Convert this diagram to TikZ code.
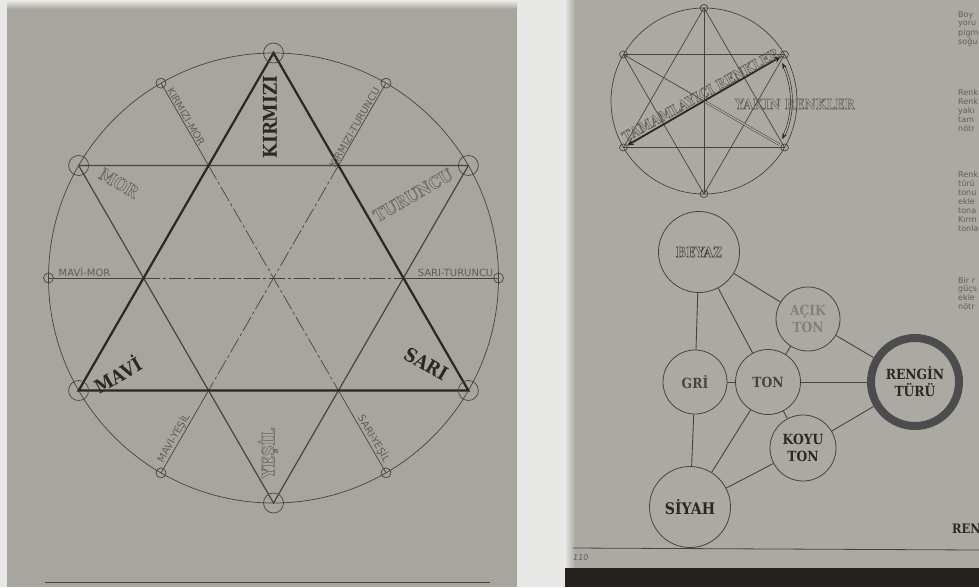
\documentclass[tikz,border=0pt]{standalone}
\usepackage{fontspec}
\setmainfont{DejaVu Sans}
\newfontfamily\heavy[FakeStretch=0.88]{DejaVu Serif}
\newfontfamily\labelf{DejaVu Sans}
\usetikzlibrary{arrows.meta}
\definecolor{paper}{RGB}{168,165,158}
\definecolor{paperR}{RGB}{172,169,162}
\definecolor{gapc}{RGB}{232,232,230}
\definecolor{ink}{RGB}{42,40,38}
\definecolor{inkm}{RGB}{70,68,65}
\definecolor{inkl}{RGB}{95,93,90}
\definecolor{pale}{RGB}{130,128,124}
\definecolor{band}{RGB}{38,33,28}
\newcommand\outl[1]{\special{pdf:literal direct 1 Tr 0.45 w}#1\special{pdf:literal direct 0 Tr}}
\tikzset{
  big/.style={font=\heavy\bfseries\fontsize{19}{19}\selectfont, text=ink, inner sep=0pt},
  hollow/.style={font=\heavy\bfseries\fontsize{17}{17}\selectfont, text=inkl, inner sep=0pt},
  sml/.style={font=\labelf\fontsize{10}{10}\selectfont, text=inkl, inner sep=1pt},
  thinln/.style={draw=inkm, line width=0.7pt},
  dd/.style={draw=inkm, line width=0.7pt, dash pattern=on 16pt off 3pt on 3pt off 3pt},
  vcirc/.style={draw=inkm, line width=0.7pt},
  gnode/.style={circle, draw=inkm, line width=0.8pt, inner sep=0pt, align=center,
    font=\heavy\bfseries\fontsize{14}{17}\selectfont, text=inkm},
  edge/.style={draw=inkm, line width=0.9pt},
  coltext/.style={font=\labelf\fontsize{8}{8}\selectfont, text=inkl, anchor=west, inner sep=0pt}
}
\begin{document}
\begin{tikzpicture}[x=1pt,y=-1pt]
\useasboundingbox (0,0) rectangle (979,587);
% pages
\fill[gapc] (0,0) rectangle (979,587);
\fill[paper] (7,0) rectangle (517,587);
\shade[top color=white!80!paper, bottom color=paper] (7,0) rectangle (517,9);
\fill[paperR] (565,0) rectangle (979,587);
\shade[left color=white!70!paperR, right color=paperR] (565,0) rectangle (575,568);
\fill[band] (565,568) rectangle (979,587);
\draw[inkm, line width=0.8pt] (45,582) -- (490,582);
\draw[inkm, line width=0.8pt] (573,548) -- (979,550);

% ===== left hexagram =====
\coordinate (C) at (273.5,278);
\draw[thinln] (C) circle[radius=225];
\foreach \n/\a in {K/-90,T/-30,S/30,Y/90,M/150,O/-150}{
  \coordinate (\n) at ([shift={(\a:225)}]C);
}
\foreach \n/\a in {KT/-60,ST/0,SY/60,MY/120,MM/180,KM/-120}{
  \coordinate (\n) at ([shift={(\a:225)}]C);
  \coordinate (i\n) at ([shift={(\a:130)}]C);
}
% diameters
\foreach \p/\q in {MM/ST,KM/SY,KT/MY}{
  \draw[thinln] (\p) -- (i\p);
  \draw[dd] (i\p) -- (i\q);
  \draw[thinln] (i\q) -- (\q);
}
\draw[draw=inkm, line width=1.2pt, line join=miter] (O) -- (T) -- (Y) -- cycle;
\draw[draw=ink, line width=2.2pt, line join=miter] (K) -- (M) -- (S) -- cycle;
\foreach \n in {K,T,S,Y,M,O}{ \draw[vcirc] (\n) circle[radius=10]; }
\foreach \n in {KT,ST,SY,MY,MM,KM}{ \draw[vcirc] (\n) circle[radius=5]; }

\node[big, rotate=90] (lK) at (270,117) {KIRMIZI};
\node[big, rotate=30] (lM) at (117,374) {MAVİ};
\node[big, rotate=-30] (lS) at (426,364) {SARI};
\node[hollow, rotate=-30] (lO) at (119,183) {\outl{MOR}};
\node[hollow, rotate=30] (lT) at (413,195) {\outl{TURUNCU}};
\node[hollow, rotate=90] (lY) at (268,453) {\outl{YEŞİL}};

\node[sml, rotate=-60, anchor=south west] (sKM) at ([shift={(60:8)}]KM) {KIRMIZI-MOR};
\node[sml, rotate=60, anchor=south east] (sKT) at ([shift={(120:8)}]KT) {KIRMIZI-TURUNCU};
\node[sml, rotate=60, anchor=south west] (sMY) at ([shift={(-60:8)}]MY) {MAVİ-YEŞİL};
\node[sml, rotate=-60, anchor=south east] (sSY) at ([shift={(-120:8)}]SY) {SARI-YEŞİL};
\node[sml, anchor=south west] (sMM) at ([shift={(0:9)}]MM) {MAVİ-MOR};
\node[sml, anchor=south east] (sST) at ([shift={(180:4)}]ST) {SARI-TURUNCU};

% ===== top-right small hexagram =====
\coordinate (c2) at (704,101);
\draw[thinln] (c2) circle[radius=93];
\foreach \n/\a in {A/-90,B/-30,D/30,E/90,F/150,G/-150}{
  \coordinate (h\n) at ([shift={(\a:93)}]c2);
}
\draw[thinln] (hA) -- (hF) -- (hD) -- cycle;
\draw[thinln] (hG) -- (hB) -- (hE) -- cycle;
\draw[thinln] (hA) -- (hE);
\draw[thinln] (hG) -- (c2);
\draw[draw=inkm, line width=0.5pt, double=paperR, double distance=1.4pt] (c2) -- ([shift={(-150:6)}]hD);
\draw[draw=ink, line width=1.8pt, {Stealth[length=7pt,width=6pt]}-{Stealth[length=7pt,width=6pt]}]
  ([shift={(-30:4)}]hF) -- ([shift={(150:4)}]hB);
\draw[draw=ink, line width=0.6pt, double=paperR, double distance=1.4pt, {Stealth[length=6pt]}-{Stealth[length=6pt]}]
  ([shift={(-26:87)}]c2) arc[start angle=-26, end angle=26, radius=87];
\foreach \n in {A,B,D,E,F,G}{ \draw[vcirc] (h\n) ellipse[x radius=4, y radius=3.5]; }
\node[hollow, font=\heavy\bfseries\fontsize{14}{14}\selectfont, rotate=29, anchor=south, inner sep=1.5pt] (tam) at (c2) {\outl{TAMAMLAYICI RENKLER}};
\node[hollow, font=\heavy\bfseries\fontsize{14}{14}\selectfont] (yak) at (795,104) {\outl{YAKIN RENKLER}};

% ===== graph =====
\node[gnode, minimum size=81pt] (beyaz) at (699,252) {\outl{BEYAZ}};
\node[gnode, minimum size=64pt, text=pale] (acik) at (808,319) {AÇIK\\TON};
\node[gnode, minimum size=64pt] (gri) at (695,382) {GRİ};
\node[gnode, minimum size=65pt] (ton) at (768,382) {TON};
\node[gnode, minimum size=66pt, text=ink] (koyu) at (803,448) {KOYU\\TON};
\node[gnode, minimum size=81pt, text=ink, font=\heavy\bfseries\fontsize{16}{16}\selectfont] (siyah) at (690,507) {SİYAH};
\node[circle, minimum size=96pt, inner sep=0pt] (renk) at (915,382) {};
\draw[draw=black!70, line width=8pt] (renk.center) circle[radius=44];
\node[align=center, font=\heavy\bfseries\fontsize{14}{17}\selectfont, text=ink] (renkt) at (renk.center) {RENGİN\\TÜRÜ};

\draw[edge] (beyaz) -- (acik);
\draw[edge] (beyaz) -- (gri);
\draw[edge] (beyaz) -- (ton);
\draw[edge] (acik) -- (ton);
\draw[edge] (acik) -- (renk);
\draw[edge] (gri) -- (ton);
\draw[edge] (ton) -- (renk);
\draw[edge] (ton) -- (koyu);
\draw[edge] (ton) -- (siyah);
\draw[edge] (gri) -- (siyah);
\draw[edge] (siyah) -- (koyu);
\draw[edge] (koyu) -- (renk);

% ===== right column text (cut by page edge) =====
\begin{scope}
\clip (565,0) rectangle (979,587);
\foreach \t/\yy in {Boy/15, yoru/24, pigm/33, soğu/42,
   Renk/93, Renk/102, yakı/111, tam/120, nötr/129,
   Renk/175, türü/184, tonu/193, ekle/202, tona/211, Kırm/220, tonla/229,
   Bir r/280, güçs/289, ekle/298, nötr/307}{
  \node[coltext] at (958,\yy) {\t};
}
\node[font=\heavy\bfseries\fontsize{13}{13}\selectfont, text=ink, anchor=west, inner sep=0pt] (ren) at (952,529) {REN};
\end{scope}
\node[font=\labelf\itshape\fontsize{8}{8}\selectfont, text=inkl, anchor=west, inner sep=0pt] (pg) at (573,558) {110};
\end{tikzpicture}
\end{document}
